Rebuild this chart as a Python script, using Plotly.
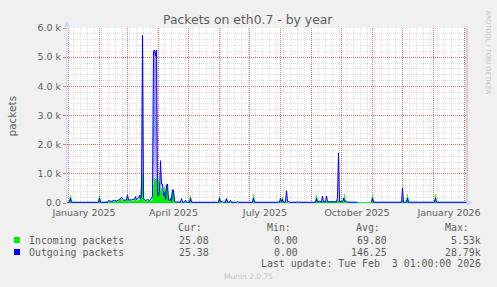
import pandas as pd
import plotly.graph_objects as go

# ---------------- data ----------------
out_dates = ["2024-12-31", "2025-01-02", "2025-01-03", "2025-01-04", "2025-01-31", "2025-02-01", "2025-02-02",
             "2025-02-09", "2025-02-10", "2025-02-13", "2025-02-16", "2025-02-18", "2025-02-21", "2025-02-23",
             "2025-02-25", "2025-02-28", "2025-03-01", "2025-03-02", "2025-03-05", "2025-03-08", "2025-03-09",
             "2025-03-10", "2025-03-12", "2025-03-13", "2025-03-14", "2025-03-15", "2025-03-16", "2025-03-17",
             "2025-03-19", "2025-03-21", "2025-03-23", "2025-03-25", "2025-03-26", "2025-03-27", "2025-03-28",
             "2025-03-29", "2025-03-30", "2025-03-31", "2025-04-01", "2025-04-02", "2025-04-03", "2025-04-04",
             "2025-04-05", "2025-04-06", "2025-04-07", "2025-04-08", "2025-04-09", "2025-04-10", "2025-04-11",
             "2025-04-12", "2025-04-13", "2025-04-14", "2025-04-15", "2025-04-16", "2025-04-17", "2025-04-18",
             "2025-04-23", "2025-04-24", "2025-04-25", "2025-04-27", "2025-04-28", "2025-04-29", "2025-05-02",
             "2025-05-03", "2025-05-04", "2025-05-11", "2025-05-12", "2025-05-13", "2025-05-31", "2025-06-01",
             "2025-06-02", "2025-06-04", "2025-06-05", "2025-06-07", "2025-06-08", "2025-06-09", "2025-06-11",
             "2025-06-12", "2025-06-13", "2025-06-18", "2025-06-19", "2025-06-20", "2025-07-04", "2025-07-05",
             "2025-07-06", "2025-07-31", "2025-08-01", "2025-08-02", "2025-08-03", "2025-08-04", "2025-08-06",
             "2025-08-07", "2025-08-08", "2025-08-09", "2025-08-10", "2025-08-17", "2025-08-18", "2025-08-19",
             "2025-09-05", "2025-09-06", "2025-09-07", "2025-09-09", "2025-09-10", "2025-09-11", "2025-09-12",
             "2025-09-13", "2025-09-15", "2025-09-16", "2025-09-17", "2025-09-20", "2025-09-22", "2025-09-23",
             "2025-09-26", "2025-09-27", "2025-09-28", "2025-09-29", "2025-10-02", "2025-10-03", "2025-10-04",
             "2025-10-06", "2025-10-07", "2025-10-17", "2025-10-24", "2025-10-31", "2025-11-01", "2025-11-02",
             "2025-11-30", "2025-12-01", "2025-12-02", "2025-12-05", "2025-12-06", "2025-12-07", "2026-01-02",
             "2026-01-03", "2026-01-04", "2026-02-03"]
out_values = [25, 25, 170, 25, 25, 170, 25,
              25, 80, 60, 90, 70, 120, 200,
              90, 110, 280, 100, 110, 130, 220,
              110, 180, 260, 150, 300, 5750, 150,
              80, 120, 90, 150, 250, 5200, 5250,
              5050, 5250, 250, 250, 400, 1450, 650,
              650, 250, 350, 120, 600, 650, 100,
              80, 150, 60, 450, 450, 60, 40,
              30, 150, 30, 30, 100, 30, 30,
              160, 25, 25, 50, 25, 25, 170,
              40, 60, 30, 30, 150, 30, 30,
              90, 25, 25, 50, 25, 25, 170,
              25, 25, 160, 40, 120, 30, 30,
              420, 40, 60, 25, 25, 40, 25,
              25, 160, 40, 60, 30, 30, 240,
              40, 40, 240, 40, 50, 60, 40,
              40, 200, 1720, 50, 40, 170, 60,
              60, 30, 25, None, 25, 170, 25,
              25, 520, 30, 30, 170, 25, 25,
              170, 25, 25]

in_dates = ["2024-12-31", "2025-01-02", "2025-01-03", "2025-01-04", "2025-01-31", "2025-02-01", "2025-02-02",
            "2025-02-09", "2025-02-10", "2025-02-15", "2025-02-20", "2025-02-22", "2025-02-24", "2025-02-28",
            "2025-03-01", "2025-03-02", "2025-03-08", "2025-03-09", "2025-03-10", "2025-03-13", "2025-03-14",
            "2025-03-15", "2025-03-16", "2025-03-17", "2025-03-18", "2025-03-26", "2025-03-27", "2025-03-28",
            "2025-03-29", "2025-03-30", "2025-03-31", "2025-04-01", "2025-04-02", "2025-04-03", "2025-04-04",
            "2025-04-05", "2025-04-06", "2025-04-07", "2025-04-08", "2025-04-09", "2025-04-10", "2025-04-11",
            "2025-04-12", "2025-04-15", "2025-04-16", "2025-04-17", "2025-04-18", "2025-05-02", "2025-05-03",
            "2025-05-04", "2025-05-31", "2025-06-01", "2025-06-02", "2025-06-07", "2025-06-08", "2025-06-09",
            "2025-07-04", "2025-07-05", "2025-07-06", "2025-07-31", "2025-08-01", "2025-08-02", "2025-08-03",
            "2025-08-04", "2025-09-05", "2025-09-06", "2025-09-07", "2025-09-10", "2025-09-20", "2025-09-27",
            "2025-09-28", "2025-09-29", "2025-10-03", "2025-10-04", "2025-10-05", "2025-10-17", "2025-10-24",
            "2025-10-31", "2025-11-01", "2025-11-02", "2025-11-30", "2025-12-01", "2025-12-02", "2025-12-05",
            "2025-12-06", "2025-12-07", "2026-01-02", "2026-01-03", "2026-01-04", "2026-02-03"]
in_values = [20, 20, 260, 20, 20, 260, 20,
             20, 40, 50, 70, 150, 60, 80,
             170, 60, 80, 150, 60, 100, 300,
             700, 1000, 300, 60, 80, 400, 850,
             800, 850, 700, 750, 600, 300, 500,
             200, 100, 550, 350, 650, 500, 60,
             40, 400, 350, 40, 20, 20, 260,
             20, 20, 220, 20, 20, 150, 20,
             20, 300, 20, 20, 150, 40, 200,
             20, 20, 280, 40, 50, 60, 60,
             100, 30, 30, 300, 25, 25, None,
             25, 280, 25, 25, 80, 25, 25,
             300, 25, 25, 300, 25, 25]

y_tick_values = [0, 1000, 2000, 3000, 4000, 5000, 6000]
y_tick_text = ["0.0", "1.0 k", "2.0 k", "3.0 k", "4.0 k", "5.0 k", "6.0 k"]

month_label_starts = ["2025-01-01", "2025-04-01", "2025-07-01", "2025-10-01", "2026-01-01"]
month_label_ends = ["2025-02-01", "2025-05-01", "2025-08-01", "2025-11-01", "2026-02-01"]
month_labels = ["January 2025", "April 2025", "July 2025", "October 2025", "January 2026"]

legend_names = ["Incoming packets", "Outgoing packets"]
legend_colors = ["#00ee00", "#0000ff"]
stat_headers = ["Cur:", "Min:", "Avg:", "Max:"]
incoming_stats = ["25.08", "0.00", "69.80", "5.53k"]
outgoing_stats = ["25.38", "0.00", "146.25", "28.79k"]
last_update = "Last update: Tue Feb  3 01:00:00 2026"

# 400 days over 400 px
x_start, x_end = "2024-12-30 12:00", "2026-02-03 12:00"

# ---------------- geometry helpers ----------------
W, H = 497, 287
L, R, T, B = 67, 467, 28, 203


def px(x):
    return (x - L) / (R - L)


def py(y):
    return (B - y) / (B - T)


FONT = "DejaVu Sans"
MONO = "DejaVu Sans Mono"
TXT = "#5e5e5e"
MGRID = "rgba(235,80,80,0.8)"
GRID = "rgba(170,170,170,0.4)"
AXIS = "#CFD6F8"

fig = go.Figure()

# outgoing fill (light blue under the line)
fig.add_trace(go.Scatter(
    x=pd.to_datetime(out_dates), y=out_values, mode="lines", line=dict(width=0, color="#0000ff"),
    fill="tozeroy", connectgaps=False,
    fillgradient=dict(type="vertical", start=0, stop=2500,
                      colorscale=[[0, "rgba(40,40,255,0.15)"], [1, "rgba(40,40,255,0.5)"]]),
    showlegend=False, hoverinfo="skip"))
# incoming area
fig.add_trace(go.Scatter(
    x=pd.to_datetime(in_dates), y=in_values, mode="lines", line=dict(width=0.6, color="#00ee00"),
    fill="tozeroy", fillcolor="#00ee00", connectgaps=False, name=legend_names[0], showlegend=False))
# outgoing line
fig.add_trace(go.Scatter(
    x=pd.to_datetime(out_dates), y=out_values, mode="lines", line=dict(width=1.0, color="#0000ff"),
    connectgaps=False, name=legend_names[1], showlegend=False))

mid_ticks = [pd.Timestamp(s) + (pd.Timestamp(e) - pd.Timestamp(s)) / 2
             for s, e in zip(month_label_starts, month_label_ends)]

fig.update_layout(
    width=W, height=H,
    margin=dict(l=L, r=W - R, t=T, b=H - B, pad=0),
    paper_bgcolor="#F0F0F0", plot_bgcolor="#FFFFFF",
    font=dict(family=FONT, color=TXT, size=9.5),
    showlegend=False,
    # main x axis: weekly minor grid (gray)
    xaxis=dict(
        type="date", range=[x_start, x_end], dtick=7 * 86400000, tick0="2025-01-06",
        showgrid=True, gridcolor=GRID, griddash="1px,1px", gridwidth=1,
        showticklabels=False, ticks="", zeroline=False,
        showline=True, linecolor=AXIS, linewidth=1,
        layer="below traces",
    ),
    # monthly major grid (red), drawn over the weekly one
    xaxis3=dict(
        type="date", overlaying="x", matches="x", anchor="y",
        dtick="M1", tick0="2025-01-01",
        showgrid=True, gridcolor=MGRID, griddash="1px,1px", gridwidth=1,
        showticklabels=False, ticks="", zeroline=False, showline=False,
    ),
    # month labels, centred in their month
    xaxis2=dict(
        type="date", overlaying="x", matches="x", anchor="y", side="bottom",
        tickmode="array", tickvals=mid_ticks, ticktext=month_labels,
        showgrid=False, ticks="", showline=False, zeroline=False,
        ticklabelstandoff=2,
        tickfont=dict(size=9.5, color=TXT, family=FONT),
    ),
    yaxis=dict(
        range=[0, 6000], tickmode="array", tickvals=y_tick_values, ticktext=y_tick_text,
        showgrid=True, gridcolor=MGRID, griddash="1px,1px", gridwidth=1,
        ticks="outside", ticklen=3, tickcolor=MGRID,
        tickfont=dict(size=9.5, color=TXT, family=FONT),
        zeroline=False, showline=True, linecolor=AXIS, linewidth=1,
        minor=dict(dtick=200, showgrid=True, gridcolor=GRID, griddash="1px,1px", gridwidth=1),
        layer="below traces",
    ),
)

# invisible traces attached to the overlay axes so they are rendered
for xa in ["x2", "x3"]:
    fig.add_trace(go.Scatter(x=[x_start], y=[None], xaxis=xa, yaxis="y", showlegend=False,
                             hoverinfo="skip", mode="markers", marker=dict(opacity=0)))

ann = []


def text(x, y, s, size, color=TXT, family=FONT, xanchor="center", angle=0):
    ann.append(dict(xref="paper", yref="paper", x=px(x), y=py(y), text=s, showarrow=False,
                    font=dict(size=size, color=color, family=family), xanchor=xanchor,
                    yanchor="middle", textangle=angle))


text(248, 19, "Packets on eth0.7 - by year", 12.4)
text(11, 115.5, "packets", 10.5, angle=-90)
text(487.5, 52, "RRDTOOL / TOBI OETIKER", 6.5, color="#c4c4c4", angle=90)
text(248, 276, "Munin 2.0.75", 7.5, color="#c6c6c6")

header_right = [203.5, 293, 381.5, 470.5]
value_right = [210.5, 299.5, 388.5, 482.5]
for h, xr in zip(stat_headers, header_right):
    text(xr, 227, h, 9.9, family=MONO, xanchor="right")
rows_y = [240, 252]
for name, stats, yy in zip(legend_names, [incoming_stats, outgoing_stats], rows_y):
    text(27, yy, name, 9.9, family=MONO, xanchor="left")
    for v, xr in zip(stats, value_right):
        text(xr, yy, v, 9.9, family=MONO, xanchor="right")
text(482.5, 263.5, last_update, 9.9, family=MONO, xanchor="right")

shapes = []
for c, yy in zip(legend_colors, rows_y):
    shapes.append(dict(type="rect", xref="paper", yref="paper", x0=px(14), x1=px(20),
                       y0=py(yy + 3), y1=py(yy - 3), fillcolor=c, line=dict(width=0)))
# right frame line
shapes.append(dict(type="line", xref="paper", yref="paper", x0=1, x1=1, y0=0, y1=1,
                   line=dict(color="#a8a8a8", width=1)))
# axis arrows
shapes.append(dict(type="path", xref="paper", yref="paper",
                   path=f"M {px(64)},{py(27)} L {px(70)},{py(27)} L {px(67)},{py(21)} Z",
                   fillcolor=AXIS, line=dict(width=0)))
shapes.append(dict(type="path", xref="paper", yref="paper",
                   path=f"M {px(467)},{py(200)} L {px(467)},{py(206)} L {px(473)},{py(203)} Z",
                   fillcolor=AXIS, line=dict(width=0)))

fig.update_layout(annotations=ann, shapes=shapes)

fig.write_html("out.html")
